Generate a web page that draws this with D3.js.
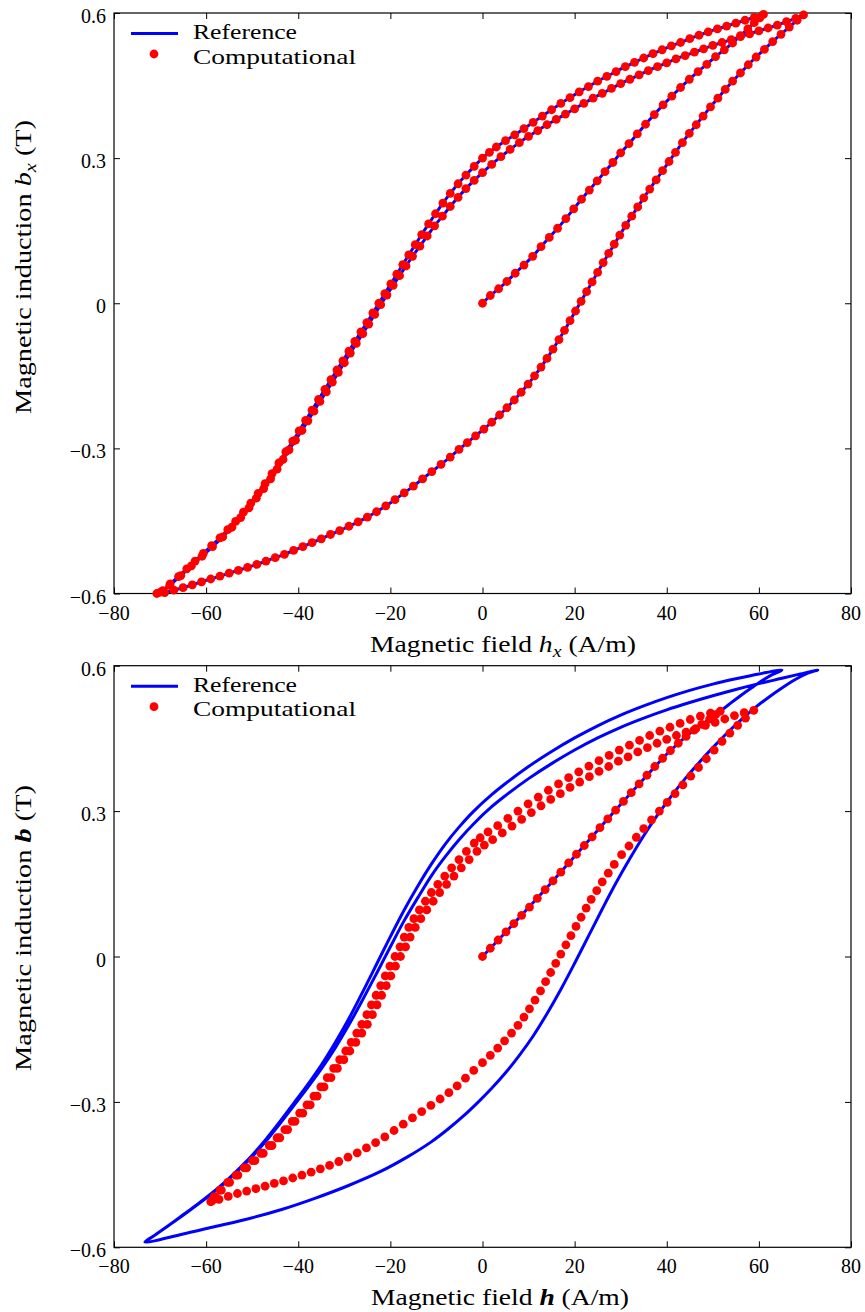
<!DOCTYPE html>
<html>
<head>
<meta charset="utf-8">
<script src="https://cdn.jsdelivr.net/npm/d3@7"></script>
<style>
  body { margin: 0; background: #fff; }
</style>
</head>
<body>
<svg id="chart" width="865" height="1312" font-family="'Liberation Serif', 'DejaVu Serif', serif"></svg>
<script>
// Axis ticks
const xTicks = [-80, -60, -40, -20, 0, 20, 40, 60, 80];
const yTicks = [-0.6, -0.3, 0, 0.3, 0.6];
const legendLabels = ["Reference", "Computational"];

// Panel 1: x-component. Field h_x (A/m), induction b_x (T).
// Order: initial curve, first descent, ascent, second descent.
const topCompH = [
  0, 1.7, 3.5, 5.3, 7.1, 9.0, 10.9, 12.7, 14.5, 16.3, 18.1, 19.8, 21.5, 23.2, 24.9, 26.6, 28.3, 30.0, 31.8, 33.6, 35.4, 37.3, 39.2, 41.1, 43.0, 44.9, 46.8, 48.7, 50.6, 52.5, 54.3, 56.0, 57.6, 59.0, 60.2, 61.0,
  59, 57, 55, 53, 51, 49, 47, 45, 43, 41, 39, 37, 35, 33, 31, 29, 27, 25, 23, 21, 19, 17, 15, 13, 11, 9, 7, 5, 3, 1.5, 0,
  -1.8, -3.6, -5.3, -7.0, -8.6, -10.2, -11.7, -13.2, -14.6, -16.0, -17.3, -18.6, -19.9, -21.2, -22.5, -23.8, -25.1, -26.4, -27.7, -29.0, -30.3, -31.6, -32.9, -34.2, -35.6, -37.0, -38.4, -39.8, -41.2, -42.7, -44.2, -45.7, -47.2, -48.7, -50.3, -51.9, -53.6, -55.3, -57.0, -58.8, -60.6, -62.4, -64.2, -66.0, -67.8, -69.4, -70.7,
  -69, -67, -65, -63, -61, -59, -57, -55, -53, -51, -49, -47, -45, -43, -41, -39, -37, -35, -33, -31, -29, -27, -25, -23, -21, -19, -17, -15, -13, -11, -9, -7, -5.1, -3.3, -1.5, 0.3, 2.0, 3.7, 5.3,
  6.9, 8.4, 9.9, 11.3, 12.7, 14.0, 15.3, 16.6, 17.8, 19.0, 20.2, 21.4, 22.6, 23.8, 25.0, 26.2, 27.4, 28.6, 29.8, 31.1, 32.4, 33.7, 35.0, 36.3, 37.7, 39.1, 40.5, 41.9, 43.4, 44.9, 46.4, 47.9, 49.5, 51.1, 52.7, 54.3, 56.0, 57.7, 59.4, 61.2, 63.0, 64.8, 66.6, 68.3, 69.7,
  68, 66, 64, 62, 60, 58, 56, 54, 52, 50, 48, 46, 44, 42, 40, 38, 36, 34, 32, 30, 28, 26, 24, 22, 20, 18, 16, 14, 12, 10, 8, 6, 4, 2, 0,
  -1.8, -3.6, -5.3, -7.0, -8.7, -10.4, -12.0, -13.6, -15.2, -16.6, -18.0, -19.4, -20.75, -22.1, -23.4, -24.7, -26.0, -27.4, -28.7, -30.0, -31.3, -32.6, -33.9, -35.3, -36.6, -37.9, -39.2, -40.6, -42.0, -43.3, -44.6, -46.0, -47.5, -49.1, -50.7, -52.5, -54.4, -56.4, -58.6, -60.9, -63.2, -65.5, -67.9, -69.9
];
const topCompB = [
  0, 0.016, 0.030, 0.045, 0.062, 0.079, 0.097, 0.117, 0.136, 0.155, 0.175, 0.195, 0.215, 0.234, 0.253, 0.272, 0.291, 0.311, 0.330, 0.350, 0.370, 0.390, 0.410, 0.428, 0.446, 0.463, 0.479, 0.494, 0.510, 0.524, 0.538, 0.553, 0.567, 0.580, 0.590, 0.597,
  0.591, 0.585, 0.579, 0.573, 0.567, 0.561, 0.554, 0.547, 0.539, 0.532, 0.524, 0.516, 0.507, 0.498, 0.489, 0.479, 0.469, 0.459, 0.448, 0.437, 0.425, 0.413, 0.400, 0.387, 0.374, 0.361, 0.348, 0.336, 0.323, 0.312, 0.300,
  0.283, 0.265, 0.247, 0.227, 0.207, 0.185, 0.164, 0.142, 0.121, 0.100, 0.080, 0.060, 0.040, 0.020, 0.000, -0.020, -0.040, -0.059, -0.079, -0.099, -0.119, -0.138, -0.158, -0.178, -0.199, -0.221, -0.242, -0.264, -0.285, -0.307, -0.330, -0.352, -0.373, -0.393, -0.413, -0.432, -0.451, -0.468, -0.485, -0.501, -0.517, -0.533, -0.549, -0.565, -0.580, -0.594, -0.600,
  -0.598, -0.593, -0.588, -0.582, -0.576, -0.570, -0.564, -0.558, -0.552, -0.546, -0.540, -0.533, -0.526, -0.519, -0.511, -0.503, -0.495, -0.487, -0.478, -0.470, -0.461, -0.452, -0.442, -0.431, -0.419, -0.406, -0.392, -0.378, -0.363, -0.348, -0.333, -0.318, -0.302, -0.288, -0.274, -0.260, -0.246, -0.231, -0.216,
  -0.200, -0.184, -0.167, -0.150, -0.132, -0.114, -0.095, -0.075, -0.056, -0.036, -0.016, 0.004, 0.024, 0.044, 0.064, 0.084, 0.103, 0.122, 0.141, 0.161, 0.180, 0.199, 0.218, 0.236, 0.255, 0.274, 0.293, 0.312, 0.332, 0.351, 0.369, 0.387, 0.406, 0.424, 0.442, 0.459, 0.476, 0.493, 0.509, 0.525, 0.541, 0.556, 0.571, 0.585, 0.596,
  0.589, 0.582, 0.575, 0.569, 0.563, 0.557, 0.551, 0.545, 0.539, 0.533, 0.526, 0.519, 0.512, 0.505, 0.497, 0.489, 0.481, 0.472, 0.463, 0.454, 0.444, 0.434, 0.424, 0.413, 0.402, 0.391, 0.380, 0.369, 0.357, 0.345, 0.332, 0.318, 0.303, 0.287, 0.270,
  0.254, 0.237, 0.219, 0.200, 0.180, 0.160, 0.139, 0.118, 0.097, 0.077, 0.057, 0.037, 0.017, -0.003, -0.023, -0.043, -0.063, -0.083, -0.103, -0.123, -0.143, -0.163, -0.183, -0.203, -0.223, -0.243, -0.263, -0.283, -0.303, -0.323, -0.343, -0.363, -0.383, -0.403, -0.423, -0.443, -0.463, -0.483, -0.503, -0.523, -0.543, -0.563, -0.583, -0.597
];
// the reference solution runs through the same points in this component
const topRefH = topCompH;
const topRefB = topCompB;

// Panel 2: field magnitude h (A/m), induction b (T)
const botRefH = [
  0, 6.8, 13.6, 20.4, 27.2, 34.0, 40.8, 45.9, 49.3, 51.6, 53.5, 56.0, 58.5, 61.0, 63.0, 65.0,
  60, 55, 50, 45, 40, 35, 30, 25, 20, 15, 10, 5, 2, -2, -5, -8, -11, -14, -17, -20, -23, -26, -29, -32, -35, -38, -41, -44, -47, -50, -53, -56, -59, -62, -65, -68, -71, -73.3,
  -65.2, -58.0, -50.8, -43.6, -36.4, -29.2, -22.0, -16.2, -11.2, -7.6, -4.0, -1.0, 2, 5, 8, 11, 14, 17, 20, 23, 26, 29, 32, 35, 38, 41, 44, 47, 50, 53, 56, 59, 62, 65, 68, 70.5, 72.8,
  69, 65, 60, 55, 50, 45, 40, 35, 30, 25, 20, 15, 10, 5, 2, -2, -5, -8, -11, -14, -17, -20, -23, -26, -29, -32, -35, -38, -41, -44, -47, -50, -53, -56, -59, -62, -65, -68, -71, -73.3
];
const botRefB = [
  0, 0.068, 0.138, 0.211, 0.284, 0.356, 0.425, 0.467, 0.490, 0.506, 0.520, 0.538, 0.555, 0.571, 0.582, 0.591,
  0.583, 0.573, 0.562, 0.549, 0.534, 0.517, 0.498, 0.476, 0.451, 0.423, 0.392, 0.357, 0.334, 0.299, 0.268, 0.233, 0.192, 0.146, 0.096, 0.041, -0.016, -0.073, -0.128, -0.178, -0.224, -0.265, -0.303, -0.341, -0.377, -0.410, -0.439, -0.466, -0.490, -0.512, -0.533, -0.554, -0.574, -0.589,
  -0.573, -0.557, -0.541, -0.522, -0.499, -0.473, -0.443, -0.413, -0.383, -0.357, -0.328, -0.301, -0.272, -0.240, -0.204, -0.164, -0.118, -0.068, -0.014, 0.042, 0.098, 0.152, 0.202, 0.249, 0.292, 0.331, 0.367, 0.400, 0.431, 0.460, 0.487, 0.512, 0.534, 0.554, 0.572, 0.584, 0.591,
  0.583, 0.574, 0.563, 0.551, 0.538, 0.524, 0.509, 0.492, 0.473, 0.451, 0.426, 0.398, 0.367, 0.332, 0.309, 0.273, 0.242, 0.207, 0.168, 0.122, 0.074, 0.020, -0.035, -0.089, -0.141, -0.189, -0.232, -0.271, -0.308, -0.345, -0.381, -0.413, -0.441, -0.468, -0.491, -0.513, -0.534, -0.554, -0.574, -0.589
];
const botCompH = [
  0, 1.7, 3.4, 5.1, 6.8, 8.5, 10.2, 11.9, 13.6, 15.3, 17.0, 18.7, 20.4, 22.1, 23.8, 25.5, 27.2, 28.9, 30.6, 32.3, 34.0, 35.7, 37.4, 39.1, 40.8, 42.5, 44.2, 45.9, 47.6, 49.3, 50.6, 51.6,
  49.5, 47.3, 45.1, 42.9, 40.7, 38.5, 36.3, 34.1, 31.9, 29.7, 27.5, 25.3, 23.1, 20.9, 18.7, 16.5, 14.3, 12.1, 9.9, 7.7, 5.5, 3.3, 1.2, -0.5, -1.8, -3.5, -5.1, -6.7, -8.2, -9.7, -11.1, -12.4, -13.7, -14.9, -16.0, -17.0, -17.9, -19.0, -20.1, -21.1, -22.1, -23.1, -24.1, -25.1, -26.2, -27.3, -28.5, -29.7, -31.0, -32.3, -33.7, -35.1, -36.6, -38.1, -39.7, -41.3, -42.9, -44.6, -46.3, -48.1, -49.9, -51.7, -53.5, -55.3, -57.0, -58.3, -59.0,
  -57.2, -55.2, -53.2, -51.2, -49.2, -47.2, -45.2, -43.2, -41.2, -39.2, -37.2, -35.2, -33.2, -31.2, -29.2, -27.2, -25.2, -23.2, -21.2, -19.2, -17.2, -15.2, -13.2, -11.2, -9.2, -7.3, -5.5, -3.7, -1.9, 0, 1.7, 3.3, 4.8, 6.3, 7.7, 9.0, 10.2, 11.4, 12.6, 13.7, 14.8, 15.9, 17.0, 18.1, 19.2, 20.3, 21.4, 22.5, 23.6, 24.8, 26.0, 27.3, 28.6, 30.2, 31.8, 33.4, 35.0, 36.7, 38.4, 40.1, 41.8, 43.5, 45.2, 46.9, 48.6, 50.3, 52.0, 53.7, 55.4, 57.1, 58.9,
  56.8, 54.7, 52.6, 50.5, 48.4, 46.3, 44.2, 42.1, 40.0, 37.9, 35.8, 33.7, 31.6, 29.5, 27.4, 25.3, 23.2, 21.1, 19.0, 16.9, 14.8, 12.7, 10.6, 8.5, 6.4, 4.3, 2.2, 0.4, -1.2, -2.9, -4.6, -6.2, -7.8, -9.3, -10.7, -12.1, -13.4, -14.6, -15.7, -16.7, -17.8, -18.9, -19.9, -20.9, -21.9, -22.9, -23.9, -25.0, -26.2, -27.5, -28.8, -30.1, -31.5, -32.9, -34.4, -35.9, -37.4, -39.0, -40.7, -42.3, -44.0, -45.7, -47.6, -49.4, -51.2, -53.1, -54.9, -56.7, -58.0, -58.7
];
const botCompB = [
  0, 0.017, 0.034, 0.051, 0.068, 0.085, 0.102, 0.120, 0.138, 0.156, 0.174, 0.193, 0.211, 0.229, 0.247, 0.266, 0.284, 0.302, 0.320, 0.338, 0.356, 0.374, 0.392, 0.409, 0.425, 0.440, 0.454, 0.467, 0.479, 0.490, 0.499, 0.506,
  0.502, 0.496, 0.489, 0.481, 0.473, 0.465, 0.456, 0.446, 0.436, 0.426, 0.415, 0.404, 0.393, 0.381, 0.369, 0.356, 0.343, 0.329, 0.315, 0.300, 0.285, 0.270, 0.257, 0.245, 0.234, 0.217, 0.200, 0.183, 0.166, 0.149, 0.132, 0.114, 0.096, 0.078, 0.060, 0.040, 0.020, 0.000, -0.020, -0.040, -0.060, -0.080, -0.100, -0.120, -0.140, -0.158, -0.177, -0.195, -0.213, -0.231, -0.250, -0.269, -0.288, -0.306, -0.323, -0.340, -0.357, -0.374, -0.390, -0.406, -0.421, -0.436, -0.451, -0.466, -0.482, -0.496, -0.506,
  -0.501, -0.495, -0.489, -0.484, -0.479, -0.474, -0.468, -0.463, -0.457, -0.451, -0.445, -0.438, -0.431, -0.423, -0.414, -0.405, -0.395, -0.384, -0.372, -0.359, -0.346, -0.333, -0.320, -0.307, -0.294, -0.281, -0.267, -0.251, -0.235, -0.219, -0.204, -0.189, -0.174, -0.158, -0.142, -0.125, -0.108, -0.090, -0.071, -0.052, -0.033, -0.014, 0.005, 0.024, 0.043, 0.062, 0.081, 0.100, 0.118, 0.136, 0.154, 0.172, 0.190, 0.210, 0.228, 0.246, 0.264, 0.282, 0.300, 0.318, 0.336, 0.354, 0.372, 0.390, 0.408, 0.426, 0.444, 0.461, 0.477, 0.492, 0.508,
  0.503, 0.497, 0.490, 0.483, 0.477, 0.470, 0.463, 0.456, 0.448, 0.440, 0.431, 0.422, 0.412, 0.403, 0.392, 0.382, 0.371, 0.360, 0.349, 0.336, 0.324, 0.311, 0.297, 0.283, 0.269, 0.255, 0.241, 0.230, 0.217, 0.200, 0.183, 0.166, 0.149, 0.132, 0.114, 0.096, 0.078, 0.060, 0.040, 0.020, 0.000, -0.020, -0.040, -0.060, -0.080, -0.100, -0.120, -0.140, -0.158, -0.177, -0.195, -0.213, -0.231, -0.250, -0.269, -0.288, -0.306, -0.323, -0.340, -0.357, -0.374, -0.390, -0.406, -0.421, -0.436, -0.451, -0.466, -0.482, -0.496, -0.504
];

const svg = d3.select("#chart");
const left = 114, right = 851;

const panels = [
  { top: 13, bottom: 593.5, refH: topRefH, refB: topRefB, compH: topCompH, compB: topCompB,
    xLabel: [["Magnetic field ", null], ["h", "italic"], ["x", "sub"], [" (A/m)", null]], xLabelLen: 266, xLabelMid: 503,
    yLabel: [["Magnetic induction ", null], ["b", "italic"], ["x", "sub"], [" (T)", null]], yLabelLen: 294, yLabelMid: 267 },
  { top: 665.7, bottom: 1247.3, refH: botRefH, refB: botRefB, compH: botCompH, compB: botCompB,
    xLabel: [["Magnetic field ", null], ["h", "bold"], [" (A/m)", null]], xLabelLen: 258, xLabelMid: 500,
    yLabel: [["Magnetic induction ", null], ["b", "bold"], [" (T)", null]], yLabelLen: 286, yLabelMid: 928 }
];

// rich label: plain text, italic symbol, bold italic vector, subscript
function addRich(textSel, parts) {
  let shifted = false;
  parts.forEach(([s, style]) => {
    const t = textSel.append("tspan").text(s);
    if (shifted) { t.attr("dy", -5); shifted = false; }
    if (style === "italic") t.attr("font-style", "italic");
    if (style === "bold") t.attr("font-style", "italic").attr("font-weight", "bold");
    if (style === "sub") {
      t.attr("font-style", "italic").attr("font-size", "72%").attr("dy", 5);
      shifted = true;
    }
  });
}

panels.forEach(p => {
  const x = d3.scaleLinear().domain([-80, 80]).range([left, right]);
  const y = d3.scaleLinear().domain([-0.6, 0.6]).range([p.bottom, p.top]);
  const g = svg.append("g");

  // inward ticks on all four sides
  const tick = 6;
  const strip = s => s.select(".domain").remove();
  g.append("g").attr("transform", `translate(0,${p.bottom})`)
    .call(d3.axisBottom(x).tickValues(xTicks).tickSize(-tick).tickFormat("")).call(strip);
  g.append("g").attr("transform", `translate(0,${p.top})`)
    .call(d3.axisTop(x).tickValues(xTicks).tickSize(-tick).tickFormat("")).call(strip);
  g.append("g").attr("transform", `translate(${left},0)`)
    .call(d3.axisLeft(y).tickValues(yTicks).tickSize(-tick).tickFormat("")).call(strip);
  g.append("g").attr("transform", `translate(${right},0)`)
    .call(d3.axisRight(y).tickValues(yTicks).tickSize(-tick).tickFormat("")).call(strip);
  g.selectAll(".tick line").attr("stroke", "#000").attr("stroke-width", 1);

  // frame
  g.append("rect").attr("x", left).attr("y", p.top)
    .attr("width", right - left).attr("height", p.bottom - p.top)
    .attr("fill", "none").attr("stroke", "#000").attr("stroke-width", 1.2);

  // tick labels
  const fmtY = d => d === 0 ? "0" : d3.format(".1f")(d);
  g.selectAll(".ytl").data(yTicks).join("text")
    .attr("x", left - 8).attr("y", d => y(d) + 10)
    .attr("text-anchor", "end").attr("font-size", 20).text(fmtY);
  g.selectAll(".xtl").data(xTicks).join("text")
    .attr("x", d => x(d)).attr("y", p.bottom + 26)
    .attr("text-anchor", "middle").attr("font-size", 20).text(d => d3.format("d")(d));

  // axis titles
  const xl = g.append("text").attr("x", p.xLabelMid - p.xLabelLen / 2).attr("y", p.bottom + 58)
    .attr("font-size", 24).attr("textLength", p.xLabelLen).attr("lengthAdjust", "spacingAndGlyphs");
  addRich(xl, p.xLabel);
  const yl = g.append("text")
    .attr("transform", `translate(31,${p.yLabelMid + p.yLabelLen / 2}) rotate(-90)`)
    .attr("font-size", 24).attr("textLength", p.yLabelLen).attr("lengthAdjust", "spacingAndGlyphs");
  addRich(yl, p.yLabel);

  // reference curve
  const refPts = p.refH.map((h, i) => [h, p.refB[i]]);
  const line = d3.line().x(d => x(d[0])).y(d => y(d[1])).curve(d3.curveCatmullRom.alpha(0.5));
  g.append("path").datum(refPts).attr("d", line)
    .attr("fill", "none").attr("stroke", "#0000ff").attr("stroke-width", 3)
    .attr("stroke-linejoin", "round");

  // computational points
  const compPts = p.compH.map((h, i) => [h, p.compB[i]]);
  g.selectAll(".pt").data(compPts).join("circle")
    .attr("cx", d => x(d[0])).attr("cy", d => y(d[1])).attr("r", 4.4)
    .attr("fill", "#ff0000");

  // legend
  const ly = p.top;
  g.append("line").attr("x1", 131).attr("x2", 178).attr("y1", ly + 20.5).attr("y2", ly + 20.5)
    .attr("stroke", "#0000ff").attr("stroke-width", 3);
  g.append("circle").attr("cx", 154).attr("cy", ly + 41).attr("r", 4.4).attr("fill", "#ff0000");
  g.append("text").attr("x", 193).attr("y", ly + 26).attr("font-size", 22)
    .attr("textLength", 104).attr("lengthAdjust", "spacingAndGlyphs").text(legendLabels[0]);
  g.append("text").attr("x", 193).attr("y", ly + 50.5).attr("font-size", 22)
    .attr("textLength", 163).attr("lengthAdjust", "spacingAndGlyphs").text(legendLabels[1]);
});
</script>
</body>
</html>
